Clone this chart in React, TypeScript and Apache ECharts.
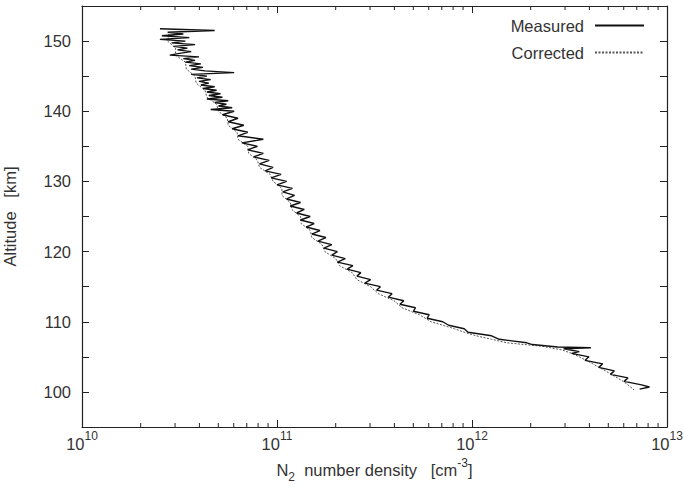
import React, { useEffect, useRef } from 'react';
import * as echarts from 'echarts';

const measuredAlt = [
  151.75, 151.5, 151.25, 151.0, 150.75, 150.5, 150.25, 150.0, 149.75, 149.5, 149.25, 149.0,
  148.75, 148.5, 148.25, 148.0, 147.75, 147.5, 147.25, 147.0, 146.75, 146.5, 146.25, 146.0,
  145.75, 145.5, 145.25, 145.0, 144.75, 144.5, 144.25, 144.0, 143.75, 143.5, 143.25, 143.0,
  142.75, 142.5, 142.25, 142.0, 141.75, 141.5, 141.25, 141.0, 140.75, 140.5, 140.25, 140.0,
  139.5, 139.0, 138.5, 138.0, 137.5, 137.0, 136.5, 136.0, 135.5, 135.0,
  134.5, 134.0, 133.5, 133.0, 132.5, 132.0, 131.5, 131.0, 130.5, 130.0,
  129.5, 129.0, 128.5, 128.0, 127.5, 127.0, 126.5, 126.0, 125.5, 125.0,
  124.5, 124.0, 123.5, 123.0, 122.5, 122.0, 121.5, 121.0, 120.5, 120.0,
  119.5, 119.0, 118.5, 118.0, 117.5, 117.0, 116.5, 116.0, 115.5, 115.0,
  114.5, 114.0, 113.5, 113.0, 112.5, 112.0, 111.5, 111.0, 110.5, 110.0,
  109.5, 109.0, 108.5, 108.0, 107.5, 107.0,
  106.75, 106.4, 106.3, 106.15, 105.75, 105.5, 105.0, 104.5, 104.0, 103.5, 103.0, 102.5,
  102.0, 101.5, 101.0, 100.7, 100.4,
];

const measuredDensity = [
  2.51e10, 4.79e10, 2.75e10, 3.31e10, 2.57e10, 3.55e10, 2.51e10, 3.39e10, 2.88e10, 3.8e10, 2.95e10, 3.47e10,
  3.09e10, 3.63e10, 3.16e10, 2.82e10, 3.98e10, 3.31e10, 3.8e10, 3.39e10, 4.07e10, 3.55e10, 4.17e10, 3.63e10,
  4.27e10, 6.03e10, 3.63e10, 4.37e10, 3.89e10, 4.57e10, 3.98e10, 4.47e10, 4.07e10, 4.79e10, 4.17e10, 4.9e10,
  4.37e10, 5.13e10, 4.47e10, 5.25e10, 4.37e10, 5.62e10, 4.79e10, 5.5e10, 5.01e10, 5.89e10, 4.57e10, 6.03e10,
  5.25e10, 6.31e10, 5.62e10, 6.76e10, 5.89e10, 7.08e10, 6.31e10, 8.51e10, 6.61e10, 7.94e10,
  7.08e10, 8.51e10, 7.59e10, 9.12e10, 8.13e10, 9.55e10, 8.71e10, 1.05e11, 9.33e10, 1.12e11,
  1.0e11, 1.2e11, 1.07e11, 1.23e11, 1.12e11, 1.32e11, 1.17e11, 1.38e11, 1.26e11, 1.48e11,
  1.32e11, 1.55e11, 1.41e11, 1.66e11, 1.51e11, 1.78e11, 1.62e11, 1.91e11, 1.74e11, 2.04e11,
  1.91e11, 2.24e11, 2.04e11, 2.45e11, 2.29e11, 2.69e11, 2.57e11, 3.02e11, 2.82e11, 3.39e11,
  3.24e11, 3.89e11, 3.72e11, 4.47e11, 4.27e11, 5.13e11, 5.01e11, 6.03e11, 5.89e11, 7.08e11,
  7.59e11, 9.12e11, 9.55e11, 1.26e12, 1.38e12, 1.91e12,
  2.04e12, 2.75e12, 4.07e12, 2.95e12, 3.55e12, 3.24e12, 3.98e12, 3.8e12, 4.68e12, 4.47e12, 5.37e12, 5.13e12,
  6.31e12, 6.03e12, 7.41e12, 8.13e12, 7.24e12,
];

const correctedAlt = [
  151, 150, 149, 148, 147, 146, 145, 144, 143, 142, 141, 140, 139, 138, 137, 136, 135, 134, 133, 132,
  131, 130, 129, 128, 127, 126, 125, 124, 123, 122, 121, 120, 119, 118, 117, 116, 115, 114, 113, 112,
  111, 110, 109, 108.5, 108, 107.5, 107, 106.5, 106, 105.5, 105, 104.5, 104, 103.5, 103, 102.5, 102,
  101.5, 101, 100.3,
];

const correctedDensity = [
  2.79e10, 2.75e10, 3.02e10, 3.02e10, 3.39e10, 3.43e10, 3.8e10, 3.85e10, 4.27e10, 4.37e10,
  4.9e10, 5.01e10, 5.56e10, 5.62e10, 6.24e10, 6.31e10, 7.08e10, 7.16e10, 7.94e10, 8.13e10,
  9.23e10, 9.55e10, 1.06e11, 1.06e11, 1.17e11, 1.19e11, 1.32e11, 1.33e11, 1.48e11, 1.51e11,
  1.7e11, 1.76e11, 2.0e11, 2.09e11, 2.43e11, 2.57e11, 3.02e11, 3.31e11, 3.98e11, 4.37e11,
  5.37e11, 6.17e11, 8.13e11, 9.12e11, 1.05e12, 1.26e12, 1.51e12, 2.29e12, 2.88e12, 3.24e12,
  3.55e12, 3.85e12, 4.17e12, 4.47e12, 4.84e12, 5.19e12, 5.56e12, 5.96e12, 6.31e12, 6.76e12,
];

const minorTickValues = [
  2e10, 3e10, 4e10, 5e10, 6e10, 7e10, 8e10, 9e10,
  2e11, 3e11, 4e11, 5e11, 6e11, 7e11, 8e11, 9e11,
  2e12, 3e12, 4e12, 5e12, 6e12, 7e12, 8e12, 9e12,
];

const X_MIN = 1e10;
const X_MAX = 1e13;
const Y_MIN = 95;
const Y_MAX = 155;

const FONT = '"Liberation Sans", Arial, Helvetica, sans-serif';
const TEXT = '#333';
const AXIS = '#222';
const FS = 16.5;

export default function App() {
  const ref = useRef<HTMLDivElement>(null);
  useEffect(() => {
    const chart = echarts.init(ref.current!, null, { renderer: 'svg' });
    const axisLine = { show: true, lineStyle: { color: AXIS, width: 1.2 } };
    const option: any = {
      animation: false,
      backgroundColor: '#fff',
      textStyle: { fontFamily: FONT },
      grid: { left: 82, right: 17, top: 6, bottom: 60, show: false, containLabel: false, outerBoundsMode: 'none' },
      legend: {
        orient: 'vertical',
        right: 34,
        top: 12,
        align: 'right',
        itemWidth: 49,
        itemHeight: 14,
        itemGap: 10,
        data: ['Measured', 'Corrected'],
        itemStyle: { opacity: 0 },
        textStyle: { fontSize: FS, color: TEXT, fontFamily: FONT, padding: [0, 6, 0, 0] },
      },
      xAxis: [
        {
          type: 'log',
          logBase: 10,
          min: X_MIN,
          max: X_MAX,
          position: 'bottom',
          axisLine,
          axisTick: { show: true, inside: true, length: 7, lineStyle: { color: AXIS, width: 1 } },
          splitLine: { show: false },
          axisLabel: {
            margin: 3,
            formatter: (v: number) => `{b|10}{s|${Math.round(Math.log10(v))}}`,
            rich: {
              b: { fontSize: FS, lineHeight: 28, color: TEXT, fontFamily: FONT },
              s: { fontSize: 12, lineHeight: 10, verticalAlign: 'top', color: TEXT, fontFamily: FONT },
            },
          },
          name: '{n|N}{sub|2}{n|  number density   [cm}{sup|-3}{n|]}',
          nameLocation: 'middle',
          nameGap: 22,
          nameTextStyle: {
            rich: {
              n: { fontSize: FS, lineHeight: 26, color: TEXT, fontFamily: FONT },
              sub: { fontSize: 12, lineHeight: 12, verticalAlign: 'bottom', color: TEXT, fontFamily: FONT },
              sup: { fontSize: 12, lineHeight: 12, verticalAlign: 'top', color: TEXT, fontFamily: FONT },
            },
          },
        },
        {
          type: 'log',
          logBase: 10,
          min: X_MIN,
          max: X_MAX,
          position: 'top',
          axisLine,
          axisTick: { show: true, inside: true, length: 7, lineStyle: { color: AXIS, width: 1 } },
          axisLabel: { show: false },
          splitLine: { show: false },
        },
      ],
      yAxis: [
        {
          type: 'value',
          min: Y_MIN,
          max: Y_MAX,
          interval: 5,
          position: 'left',
          axisLine,
          axisTick: { show: true, inside: true, length: 7, lineStyle: { color: AXIS, width: 1 } },
          splitLine: { show: false },
          axisLabel: {
            margin: 11,
            fontSize: FS,
            color: TEXT,
            fontFamily: FONT,
            formatter: (v: number) => (v % 10 === 0 && v > Y_MIN && v < Y_MAX ? String(v) : ''),
          },
          name: 'Altitude   [km]',
          nameLocation: 'middle',
          nameGap: 64,
          nameTextStyle: { fontSize: FS, color: TEXT, fontFamily: FONT },
        },
        {
          type: 'value',
          min: Y_MIN,
          max: Y_MAX,
          interval: 5,
          position: 'right',
          axisLine,
          axisTick: { show: true, inside: true, length: 7, lineStyle: { color: AXIS, width: 1 } },
          axisLabel: { show: false },
          splitLine: { show: false },
        },
      ],
      series: [
        {
          name: 'Corrected',
          type: 'line',
          xAxisIndex: 0,
          yAxisIndex: 0,
          data: correctedDensity.map((d, i) => [d, correctedAlt[i]]),
          symbol: 'none',
          showSymbol: false,
          color: '#555',
          lineStyle: { color: '#555', width: 1, type: [2, 1.5] },
          z: 2,
        },
        {
          name: 'Measured',
          type: 'line',
          xAxisIndex: 0,
          yAxisIndex: 0,
          data: measuredDensity.map((d, i) => [d, measuredAlt[i]]),
          symbol: 'none',
          showSymbol: false,
          color: '#111',
          lineStyle: { color: '#111', width: 1.4 },
          z: 3,
        },
        {
          type: 'custom',
          xAxisIndex: 0,
          yAxisIndex: 0,
          silent: true,
          clip: false,
          data: minorTickValues.map((v) => [v, Y_MIN]),
          renderItem: (params: any, api: any) => {
            const v = api.value(0);
            const b = api.coord([v, Y_MIN]);
            const t = api.coord([v, Y_MAX]);
            return {
              type: 'group',
              children: [
                { type: 'line', shape: { x1: b[0], y1: b[1], x2: b[0], y2: b[1] - 4 }, style: { stroke: AXIS, lineWidth: 1 } },
                { type: 'line', shape: { x1: t[0], y1: t[1], x2: t[0], y2: t[1] + 4 }, style: { stroke: AXIS, lineWidth: 1 } },
              ],
            };
          },
        },
      ],
    };
    chart.setOption(option);
    return () => chart.dispose();
  }, []);
  return (
    <div
      ref={ref}
      style={{ position: 'fixed', left: 0, top: 0, width: 684, height: 487, background: '#fff' }}
    />
  );
}
